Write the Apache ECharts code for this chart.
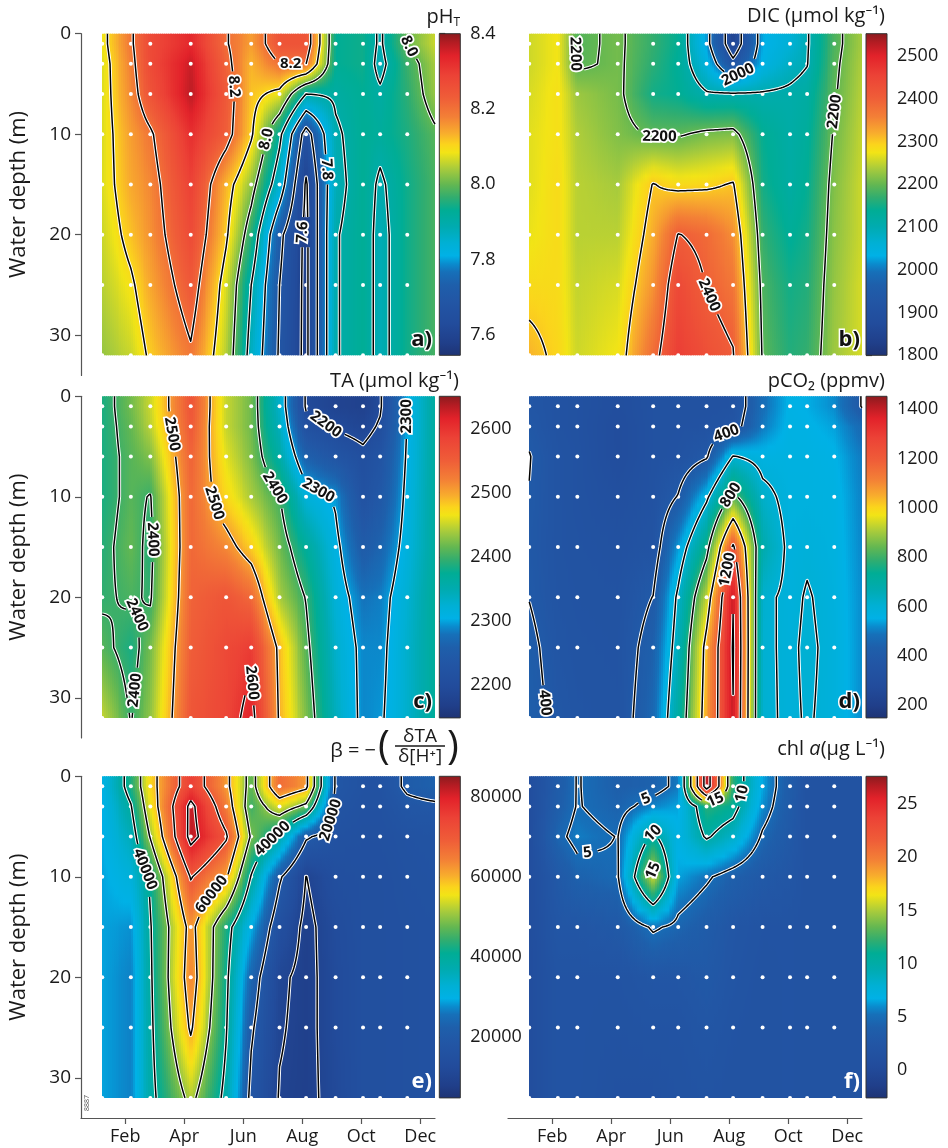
<!DOCTYPE html>
<html>
<head>
<meta charset="utf-8">
<script src="https://cdn.jsdelivr.net/npm/echarts@6.0.0/dist/echarts.min.js"></script>
<style>
  html, body { margin: 0; padding: 0; background: #fff; }
  #chart { width: 948px; height: 1148px; }
</style>
</head>
<body>
<div id="chart"></div>
<script>
// ---- sampling grid -------------------------------------------------------
// Cast dates as decimal months; the last column is the year-end boundary (no cast).
const months = [1.22, 2.19, 2.85, 4.22, 5.42, 6.27, 7.23, 8.13, 9.13, 10.06, 10.64, 11.56, 12.5];
const castCount = 12;
const depths = [1, 3, 6, 10, 15, 20, 25, 32];
const maxDepth = 32;

const tickMonths = [2, 4, 6, 8, 10, 12];
const tickNames = ['Feb', 'Apr', 'Jun', 'Aug', 'Oct', 'Dec'];
const depthTicks = [0, 10, 20, 30];

// ---- profiles: one row per cast, values at 1,3,6,10,15,20,25,32 m ---------
const phT = [
  [8.08, 8.07, 8.07, 8.07, 8.07, 8.06, 8.05, 8.03],
  [8.19, 8.18, 8.17, 8.15, 8.14, 8.12, 8.09, 8.06],
  [8.27, 8.27, 8.25, 8.19, 8.17, 8.16, 8.14, 8.11],
  [8.33, 8.36, 8.37, 8.32, 8.29, 8.27, 8.24, 8.19],
  [8.205, 8.22, 8.24, 8.23, 8.13, 8.11, 8.07, 8.05],
  [8.15, 8.13, 8.12, 8.11, 8.03, 7.96, 7.90, 7.87],
  [8.25, 8.20, 8.08, 7.92, 7.85, 7.72, 7.70, 7.69],
  [8.25, 8.20, 7.90, 7.66, 7.59, 7.58, 7.58, 7.58],
  [7.93, 7.93, 7.91, 7.89, 7.88, 7.895, 7.895, 7.895],
  [7.94, 7.94, 7.93, 7.93, 7.93, 7.93, 7.93, 7.93],
  [7.89, 7.88, 7.91, 7.92, 7.89, 7.88, 7.88, 7.88],
  [8.00, 7.97, 7.96, 7.95, 7.94, 7.94, 7.94, 7.94],
  [8.06, 8.04, 8.03, 7.99, 7.98, 7.98, 7.98, 7.98]
];
const dic = [
  [2255, 2255, 2260, 2265, 2265, 2270, 2285, 2315],
  [2275, 2275, 2280, 2280, 2285, 2285, 2285, 2290],
  [2190, 2192, 2230, 2240, 2245, 2245, 2250, 2255],
  [2208, 2208, 2210, 2215, 2235, 2245, 2260, 2275],
  [2170, 2165, 2150, 2195, 2302, 2320, 2340, 2380],
  [2140, 2135, 2140, 2195, 2285, 2402, 2440, 2460],
  [2020, 2050, 2105, 2210, 2290, 2385, 2398, 2430],
  [1850, 1920, 2105, 2215, 2304, 2345, 2370, 2404],
  [2030, 2040, 2105, 2140, 2150, 2170, 2185, 2195],
  [2060, 2080, 2110, 2115, 2120, 2135, 2150, 2160],
  [2095, 2098, 2120, 2130, 2140, 2150, 2160, 2170],
  [2185, 2190, 2195, 2205, 2215, 2220, 2225, 2230],
  [2235, 2240, 2245, 2250, 2255, 2255, 2260, 2260]
];
const ta = [
  [2385, 2385, 2385, 2385, 2390, 2395, 2410, 2450],
  [2420, 2415, 2410, 2410, 2415, 2405, 2385, 2398],
  [2450, 2445, 2425, 2398, 2390, 2396, 2420, 2430],
  [2560, 2555, 2545, 2540, 2540, 2545, 2550, 2560],
  [2450, 2450, 2460, 2475, 2515, 2560, 2575, 2580],
  [2420, 2420, 2425, 2440, 2480, 2540, 2590, 2615],
  [2330, 2340, 2360, 2402, 2420, 2440, 2490, 2495],
  [2195, 2215, 2260, 2320, 2370, 2398, 2410, 2425],
  [2180, 2195, 2230, 2295, 2310, 2320, 2330, 2340],
  [2175, 2185, 2210, 2220, 2250, 2280, 2290, 2290],
  [2195, 2205, 2225, 2240, 2265, 2285, 2290, 2295],
  [2302, 2302, 2305, 2310, 2315, 2325, 2330, 2330],
  [2365, 2365, 2365, 2365, 2365, 2370, 2370, 2370]
];
const pco2 = [
  [370, 385, 403, 398, 390, 398, 420, 430],
  [340, 340, 350, 350, 350, 355, 365, 380],
  [330, 330, 335, 335, 340, 345, 350, 360],
  [300, 290, 290, 310, 330, 340, 345, 350],
  [330, 330, 330, 335, 350, 402, 440, 465],
  [330, 335, 340, 405, 530, 620, 650, 700],
  [330, 340, 390, 580, 760, 930, 1040, 1060],
  [340, 360, 605, 830, 1220, 1395, 1410, 1395],
  [480, 500, 570, 625, 680, 615, 610, 612],
  [560, 565, 570, 575, 580, 585, 590, 590],
  [550, 560, 570, 575, 590, 605, 610, 605],
  [520, 540, 560, 570, 575, 580, 585, 585],
  [395, 470, 500, 510, 515, 520, 520, 520]
];
const beta = [
  [30000, 29500, 29500, 29000, 29000, 29000, 29000, 29000],
  [43000, 39500, 36000, 32000, 28000, 27000, 27000, 27000],
  [57000, 55000, 50500, 41000, 39500, 39000, 38500, 38000],
  [75000, 82000, 82500, 70500, 62500, 64000, 61000, 52000],
  [62000, 65000, 71000, 61000, 43000, 41500, 40500, 38000],
  [47000, 45000, 49000, 39500, 30000, 24000, 21000, 18000],
  [67000, 55000, 38000, 21000, 15000, 11000, 10500, 9600],
  [62000, 48000, 21000, 9900, 8500, 8500, 8500, 8500],
  [19000, 17500, 16000, 14500, 13000, 12500, 12500, 12000],
  [16500, 16000, 15500, 15000, 15000, 15000, 15000, 15000],
  [16500, 16000, 15500, 15000, 15000, 15000, 15000, 15000],
  [21000, 18500, 16500, 16000, 15500, 15500, 15500, 15500],
  [23000, 19000, 17000, 16500, 16000, 16000, 16000, 16000]
];
const chla = [
  [0.8, 0.8, 0.8, 0.8, 0.8, 0.8, 0.8, 0.8],
  [3.5, 3.8, 4.5, 3.0, 2.5, 2.0, 2.0, 2.0],
  [5.1, 5.1, 5.6, 4.2, 2.5, 2.0, 2.0, 2.0],
  [4.0, 4.3, 4.95, 4.8, 3.0, 2.0, 1.8, 1.5],
  [4.2, 5.8, 10.5, 15.8, 5.3, 2.5, 2.0, 1.5],
  [5.5, 6.5, 7.0, 6.5, 4.5, 2.5, 2.0, 1.8],
  [27.0, 12.0, 10.3, 5.3, 3.5, 3.0, 2.5, 2.0],
  [12.0, 11.0, 8.5, 4.0, 2.5, 2.3, 2.0, 1.8],
  [6.5, 6.0, 4.7, 3.0, 2.0, 1.8, 1.8, 1.8],
  [3.5, 3.3, 3.0, 2.5, 2.0, 2.0, 2.0, 2.0],
  [1.8, 1.8, 1.8, 1.8, 1.8, 1.8, 1.8, 1.8],
  [1.8, 1.8, 1.8, 1.8, 1.8, 1.8, 1.8, 1.8],
  [1.8, 1.8, 1.8, 1.8, 1.8, 1.8, 1.8, 1.8]
];

// colour-bar tick values
const phTicks = [7.6, 7.8, 8.0, 8.2, 8.4];
const dicTicks = [1800, 1900, 2000, 2100, 2200, 2300, 2400, 2500];
const taTicks = [2200, 2300, 2400, 2500, 2600];
const pco2Ticks = [200, 400, 600, 800, 1000, 1200, 1400];
const betaTicks = [20000, 40000, 60000, 80000];
const chlTicks = [0, 5, 10, 15, 20, 25];

// ---- colour scale --------------------------------------------------------
const PALETTE = [
  [0.00, '#1e3374'], [0.04, '#203f8a'], [0.10, '#224c9c'], [0.17, '#2256a5'],
  [0.22, '#1e5fab'], [0.26, '#1670b9'], [0.285, '#0a8cce'], [0.31, '#00b1e6'],
  [0.35, '#00b0d4'], [0.40, '#00abb0'], [0.45, '#00ad95'], [0.49, '#30ad70'],
  [0.53, '#62b752'], [0.58, '#a8cb3c'], [0.63, '#f2e416'], [0.655, '#fbd41c'],
  [0.69, '#f8ad2d'], [0.74, '#f38036'], [0.80, '#ef5d38'], [0.87, '#ec4236'],
  [0.93, '#e2222a'], [0.97, '#b51c23'], [1.00, '#8a1b1e']
];
const palRGB = PALETTE.map(([t, h]) => [t, parseInt(h.slice(1, 3), 16), parseInt(h.slice(3, 5), 16), parseInt(h.slice(5, 7), 16)]);
function colorAt(t) {
  t = Math.max(0, Math.min(1, t));
  let k = 0;
  while (k < palRGB.length - 2 && t > palRGB[k + 1][0]) k++;
  const a = palRGB[k], b = palRGB[k + 1];
  const u = (t - a[0]) / (b[0] - a[0]);
  return 'rgb(' + Math.round(a[1] + (b[1] - a[1]) * u) + ',' +
    Math.round(a[2] + (b[2] - a[2]) * u) + ',' + Math.round(a[3] + (b[3] - a[3]) * u) + ')';
}

// ---- panel set-up --------------------------------------------------------
const fmt1 = v => v.toFixed(1);
const fmt0 = v => String(v);
const panels = [
  { values: phT, range: [7.546, 8.4], ticks: phTicks, tickFmt: fmt1, levels: [7.6, 7.7, 7.8, 7.9, 8.0, 8.1, 8.2], fmt: fmt1,
    col: 0, row: 0, letter: 'a)', letterFill: '#111',
    labels: [[5.84, 5.1, 8.2], [7.59, 3.1, 8.2], [7.08, 10.7, 8.0], [8.84, 13.6, 7.8], [8.07, 19.7, 7.6], [11.6, 1.3, 8.0]] },
  { values: dic, range: [1800, 2552], ticks: dicTicks, tickFmt: fmt0, levels: [1900, 2000, 2100, 2200, 2300, 2400], fmt: fmt0,
    col: 1, row: 0, letter: 'b)', letterFill: '#111',
    labels: [[2.84, 2.1, 2200], [8.32, 4.1, 2000], [5.66, 11.2, 2200], [11.76, 7.9, 2200], [7.53, 25.8, 2400]] },
  { values: ta, range: [2149, 2650], ticks: taTicks, tickFmt: fmt0, levels: [2200, 2300, 2400, 2500, 2600], fmt: fmt0,
    col: 0, row: 1, letter: 'c)', letterFill: '#111',
    labels: [[3.64, 3.7, 2500], [5.11, 10.6, 2500], [7.14, 9.0, 2400], [8.78, 2.9, 2200], [8.72, 8.3, 2300],
             [11.55, 2.0, 2300], [2.9, 14.3, 2400], [2.28, 21.8, 2400], [2.4, 29.2, 2400], [6.52, 28.4, 2600]] },
  { values: pco2, range: [149, 1453], ticks: pco2Ticks, tickFmt: fmt0, levels: [400, 600, 800, 1000, 1200, 1400], fmt: fmt0,
    col: 1, row: 1, letter: 'd)', letterFill: '#111',
    labels: [[8.03, 4.7, 400], [7.98, 9.7, 800], [7.92, 17.3, 1200], [1.82, 30.4, 400]] },
  { values: beta, range: [4880, 85150], ticks: betaTicks, tickFmt: fmt0, levels: [10000, 20000, 40000, 50000, 60000, 70000, 80000], fmt: fmt0,
    col: 0, row: 2, letter: 'e)', letterFill: '#fff',
    labels: [[2.9, 9.0, 40000], [4.88, 11.5, 60000], [7.03, 6.3, 40000], [8.89, 4.3, 20000]] },
  { values: chla, range: [-2.6, 27.6], ticks: chlTicks, tickFmt: fmt0, levels: [5, 10, 15, 20, 25], fmt: fmt0,
    col: 1, row: 2, letter: 'f)', letterFill: '#fff',
    labels: [[5.21, 2.4, 5], [3.18, 7.2, 5], [5.32, 5.2, 10], [5.55, 9.3, 15], [7.58, 2.4, 15], [8.65, 2.0, 10]] }
];

// layout (px)
const COL_LEFT = [81, 508];
const PLOT_W = 354;
const ROW_TOP = [33.7, 396.3, 776.3];
const PX_PER_M = 10.05;
const AXIS_MAX = 34;
const AXIS_H = AXIS_MAX * PX_PER_M;
const DATA_H = maxDepth * PX_PER_M;
const CB_LEFT = [439.3, 866];
const CB_W = 21;
const FONT = '"Open Sans", "Noto Sans", "DejaVu Sans", sans-serif';

// ---- interpolation & contouring -----------------------------------------
function fineField(vals) {
  const SUB = 12;
  const xs = [], ci = [], cu = [];
  for (let i = 0; i < months.length - 1; i++) {
    for (let s = 0; s < SUB; s++) {
      const u = s / SUB;
      xs.push(months[i] + (months[i + 1] - months[i]) * u); ci.push(i); cu.push(u);
    }
  }
  xs.push(months[months.length - 1]); ci.push(months.length - 2); cu.push(1);
  const ys = [];
  for (let d = 0; d <= maxDepth + 1e-9; d += 0.25) ys.push(d);
  const grid = ys.map(d => {
    let k = 0, w = 0;
    if (d > depths[0]) {
      while (k < depths.length - 2 && d > depths[k + 1]) k++;
      w = (d - depths[k]) / (depths[k + 1] - depths[k]);
    }
    return xs.map((x, j) => {
      const i = ci[j], u = cu[j];
      const a = vals[i][k] + (vals[i][k + 1] - vals[i][k]) * w;
      const b = vals[i + 1][k] + (vals[i + 1][k + 1] - vals[i + 1][k]) * w;
      return a + (b - a) * u;
    });
  });
  return { xs, ys, grid };
}

function contourLines(field, level) {
  const { xs, ys, grid } = field;
  const pts = new Map(), segs = [], adj = new Map();
  function ep(key, x1, y1, v1, x2, y2, v2) {
    if (!pts.has(key)) {
      const t = (level - v1) / (v2 - v1);
      pts.set(key, [x1 + (x2 - x1) * t, y1 + (y2 - y1) * t]);
    }
    return key;
  }
  function add(k1, k2) {
    const idx = segs.length;
    segs.push([k1, k2]);
    [k1, k2].forEach(k => { if (!adj.has(k)) adj.set(k, []); adj.get(k).push(idx); });
  }
  for (let j = 0; j < ys.length - 1; j++) {
    for (let i = 0; i < xs.length - 1; i++) {
      const a = grid[j][i], b = grid[j][i + 1], c = grid[j + 1][i + 1], d = grid[j + 1][i];
      const sa = a >= level, sb = b >= level, sc = c >= level, sd = d >= level;
      if (sa === sb && sb === sc && sc === sd) continue;
      const T = sa !== sb ? ep('h' + i + '_' + j, xs[i], ys[j], a, xs[i + 1], ys[j], b) : null;
      const R = sb !== sc ? ep('v' + (i + 1) + '_' + j, xs[i + 1], ys[j], b, xs[i + 1], ys[j + 1], c) : null;
      const B = sd !== sc ? ep('h' + i + '_' + (j + 1), xs[i], ys[j + 1], d, xs[i + 1], ys[j + 1], c) : null;
      const L = sa !== sd ? ep('v' + i + '_' + j, xs[i], ys[j], a, xs[i], ys[j + 1], d) : null;
      const e = [T, R, B, L].filter(v => v !== null);
      if (e.length === 2) add(e[0], e[1]);
      else if (e.length === 4) {
        const center = (a + b + c + d) / 4 >= level;
        if (center === sa) { add(T, R); add(B, L); } else { add(T, L); add(R, B); }
      }
    }
  }
  const used = new Array(segs.length).fill(false);
  const lines = [];
  for (let s = 0; s < segs.length; s++) {
    if (used[s]) continue;
    used[s] = true;
    const line = [segs[s][0], segs[s][1]];
    for (const dir of [1, -1]) {
      let cur = dir === 1 ? line[line.length - 1] : line[0];
      for (;;) {
        const nx = (adj.get(cur) || []).find(t => !used[t]);
        if (nx === undefined) break;
        used[nx] = true;
        const [p, q] = segs[nx];
        cur = p === cur ? q : p;
        if (dir === 1) line.push(cur); else line.unshift(cur);
      }
    }
    lines.push(line.map(k => pts.get(k)));
  }
  return lines;
}

panels.forEach(p => {
  const field = fineField(p.values);
  p.contours = p.levels.map(level => ({ level, lines: contourLines(field, level) }));
});

// ---- render helpers -----------------------------------------------------
function heatRenderer(p) {
  const [lo, hi] = p.range;
  return function (params, api) {
    const i = api.value(2);
    const lastItem = i === months.length - 2;
    const xa = api.coord([months[i], 0])[0];
    const xb = api.coord([months[i + 1], 0])[0];
    const yTop = api.coord([months[i], 0])[1];
    const yBot = api.coord([months[i], maxDepth])[1];
    const n = Math.max(2, Math.ceil((xb - xa) / 2));
    const children = [];
    for (let s = 0; s < n; s++) {
      const u = (s + 0.5) / n;
      const col = p.values[i].map((v, k) => v + (p.values[i + 1][k] - v) * u);
      const stops = [{ offset: 0, color: colorAt((col[0] - lo) / (hi - lo)) }];
      const M = 6;
      for (let k = 0; k < depths.length - 1; k++) {
        for (let m = 0; m <= M; m++) {
          const d = depths[k] + (depths[k + 1] - depths[k]) * m / M;
          const v = col[k] + (col[k + 1] - col[k]) * m / M;
          stops.push({ offset: d / maxDepth, color: colorAt((v - lo) / (hi - lo)) });
        }
      }
      // strip edges on whole pixels, each strip overlapping the next by one pixel
      const x0 = Math.round(xa + (xb - xa) * s / n);
      let x1 = Math.round(xa + (xb - xa) * (s + 1) / n);
      if (!(lastItem && s === n - 1)) x1 += 1;
      children.push({
        type: 'rect',
        shape: { x: x0, y: yTop, width: x1 - x0, height: yBot - yTop },
        style: { fill: { type: 'linear', x: 0, y: 0, x2: 0, y2: 1, colorStops: stops } },
        silent: true
      });
    }
    return { type: 'group', children };
  };
}

function textWidth(t, size) {
  let w = 0;
  for (const ch of t) w += (ch === '.' ? 0.3 : 0.6) * size;
  return w;
}

function contourRenderer(p) {
  return function (params, api) {
    const pxLines = [];
    p.contours.forEach(c => c.lines.forEach(l => pxLines.push({ level: c.level, pts: l.map(q => api.coord(q)) })));
    const LABEL_SIZE = 15;
    const labels = [];
    p.labels.forEach(([m, d, lev]) => {
      const h = api.coord([m, d]);
      let best = null;
      pxLines.forEach(L => {
        if (Math.abs(L.level - lev) > 1e-9) return;
        L.pts.forEach((q, k) => {
          const dd = (q[0] - h[0]) ** 2 + (q[1] - h[1]) ** 2;
          if (!best || dd < best.dd) best = { dd, L, k };
        });
      });
      if (!best) return;
      const P = best.L.pts;
      const k0 = Math.max(0, best.k - 3), k1 = Math.min(P.length - 1, best.k + 3);
      let ang = Math.atan2(P[k1][1] - P[k0][1], P[k1][0] - P[k0][0]);
      if (ang > Math.PI / 2 + 1e-6) ang -= Math.PI;
      if (ang <= -Math.PI / 2 + 1e-6) ang += Math.PI;
      const text = p.fmt(lev);
      labels.push({ x: P[best.k][0], y: P[best.k][1], ang, text, hw: textWidth(text, LABEL_SIZE) / 2 + 3, hh: 7 });
    });
    const inGap = q => labels.some(L => {
      const dx = q[0] - L.x, dy = q[1] - L.y, c = Math.cos(L.ang), s = Math.sin(L.ang);
      return Math.abs(dx * c + dy * s) < L.hw && Math.abs(-dx * s + dy * c) < L.hh;
    });
    const pieces = [];
    pxLines.forEach(L => {
      let cur = [];
      L.pts.forEach(q => {
        if (inGap(q)) { if (cur.length > 1) pieces.push(cur); cur = []; }
        else cur.push(q);
      });
      if (cur.length > 1) pieces.push(cur);
    });
    const children = [];
    pieces.forEach(pts => children.push({ type: 'polyline', shape: { points: pts }, silent: true,
      style: { stroke: '#ffffff', lineWidth: 3.4, fill: 'none', lineJoin: 'round', lineCap: 'butt' } }));
    pieces.forEach(pts => children.push({ type: 'polyline', shape: { points: pts }, silent: true,
      style: { stroke: '#000000', lineWidth: 1.5, fill: 'none', lineJoin: 'round', lineCap: 'butt' } }));
    labels.forEach(L => children.push({
      type: 'text', x: L.x, y: L.y, rotation: -L.ang, silent: true,
      style: { text: L.text, fill: '#111', stroke: '#fff', lineWidth: 3.5, fontSize: LABEL_SIZE, fontWeight: 'bold',
               fontFamily: FONT, align: 'center', verticalAlign: 'middle' }
    }));
    return { type: 'group', children };
  };
}

function colorbarRenderer(p) {
  const stops = PALETTE.slice().reverse().map(([t, c]) => ({ offset: 1 - t, color: c }));
  return function (params, api) {
    const a = api.coord([0, p.range[1]]);
    const b = api.coord([1, p.range[0]]);
    return {
      type: 'rect', silent: true,
      shape: { x: a[0], y: a[1], width: b[0] - a[0], height: b[1] - a[1] },
      style: { fill: { type: 'linear', x: 0, y: 0, x2: 0, y2: 1, colorStops: stops }, stroke: '#333', lineWidth: 1 }
    };
  };
}

// ---- option ---------------------------------------------------------------
const option = {
  animation: false,
  backgroundColor: '#ffffff',
  textStyle: { fontFamily: FONT },
  grid: [], xAxis: [], yAxis: [], series: [], graphic: []
};

const axisLineStyle = { color: '#555', width: 1.2 };

panels.forEach((p, n) => {
  const gi = 2 * n, ci = 2 * n + 1;
  const top = ROW_TOP[p.row];
  option.grid.push({ left: COL_LEFT[p.col], top, width: PLOT_W, height: AXIS_H });
  option.grid.push({ left: CB_LEFT[p.col], top, width: CB_W, height: DATA_H });

  option.xAxis.push({
    gridIndex: gi, type: 'value', min: 0.5, max: 12.5, show: p.row === 2,
    axisLine: { show: true, onZero: false, lineStyle: axisLineStyle },
    axisTick: { show: true, inside: false, length: 6, customValues: tickMonths, lineStyle: axisLineStyle },
    axisLabel: { customValues: tickMonths, formatter: v => tickNames[tickMonths.indexOf(v)], fontSize: 18, color: '#1a1a1a', margin: 10 },
    splitLine: { show: false }
  });
  option.yAxis.push({
    gridIndex: gi, type: 'value', inverse: true, min: 0, max: AXIS_MAX, show: p.col === 0,
    axisLine: { show: true, onZero: false, lineStyle: axisLineStyle },
    axisTick: { show: true, inside: false, length: 6, customValues: depthTicks, lineStyle: axisLineStyle },
    axisLabel: { customValues: depthTicks, fontSize: 19, color: '#1a1a1a', margin: 10 },
    splitLine: { show: false }
  });
  option.xAxis.push({ gridIndex: ci, type: 'value', min: 0, max: 1, show: false });
  option.yAxis.push({
    gridIndex: ci, type: 'value', min: p.range[0], max: p.range[1], position: 'right',
    axisLine: { show: false },
    axisTick: { show: true, inside: false, length: 6, customValues: p.ticks, lineStyle: { color: '#333', width: 1.2 } },
    axisLabel: { customValues: p.ticks, formatter: p.tickFmt, fontSize: 18, color: '#1a1a1a', margin: 10 },
    splitLine: { show: false }
  });

  option.series.push({
    type: 'custom', xAxisIndex: gi, yAxisIndex: gi, silent: true, z: 1,
    data: months.slice(0, -1).map((m, i) => [m, 16, i]),
    encode: { x: 0, y: 1 },
    renderItem: heatRenderer(p)
  });
  const casts = [];
  months.slice(0, castCount).forEach(m => depths.forEach(d => casts.push([m, d])));
  option.series.push({
    type: 'scatter', xAxisIndex: gi, yAxisIndex: gi, silent: true, z: 2,
    symbolSize: 4, itemStyle: { color: '#ffffff', opacity: 1 }, data: casts
  });
  option.series.push({
    type: 'custom', xAxisIndex: gi, yAxisIndex: gi, silent: true, z: 3,
    data: [[6, 16]], encode: { x: 0, y: 1 },
    renderItem: contourRenderer(p)
  });
  option.series.push({
    type: 'custom', xAxisIndex: ci, yAxisIndex: ci, silent: true, z: 1,
    data: [[0.5, (p.range[0] + p.range[1]) / 2]], encode: { x: 0, y: 1 },
    renderItem: colorbarRenderer(p)
  });

  // panel letter
  const right = COL_LEFT[p.col] + PLOT_W - (p.col === 0 ? 3 : 2);
  const letterY = top + DATA_H - 16;
  option.graphic.push({
    type: 'text', x: right, y: letterY, silent: true, z: 20,
    style: Object.assign({ text: p.letter, fontSize: 22, fontWeight: 'bold', fontFamily: FONT, fill: p.letterFill,
      align: 'right', verticalAlign: 'middle' }, p.letterFill === '#111' ? { stroke: '#fff', lineWidth: 3 } : {})
  });
});

// axis names
[0, 1, 2].forEach(r => {
  option.graphic.push({
    type: 'text', x: 18.5, y: ROW_TOP[r] + DATA_H / 2, rotation: Math.PI / 2, silent: true,
    style: { text: 'Water depth (m)', fontSize: 22, fontFamily: FONT, fill: '#1a1a1a', align: 'center', verticalAlign: 'middle' }
  });
});

// titles
const titleStyle = { fontSize: 20, fontFamily: FONT, fill: '#1a1a1a', align: 'right', verticalAlign: 'middle' };
option.graphic.push(
  { type: 'text', x: 460, y: 17, silent: true,
    style: Object.assign({}, titleStyle, { text: '{m|pH}{s|T}',
      rich: { m: { fontSize: 20, fontFamily: FONT, fill: '#1a1a1a', lineHeight: 24 },
              s: { fontSize: 12, fontFamily: FONT, fill: '#1a1a1a', lineHeight: 12, verticalAlign: 'bottom' } } }) },
  { type: 'text', x: 885, y: 16, silent: true, style: Object.assign({}, titleStyle, { text: 'DIC (µmol kg⁻¹)' }) },
  { type: 'text', x: 459, y: 381, silent: true, style: Object.assign({}, titleStyle, { text: 'TA (µmol kg⁻¹)' }) },
  { type: 'text', x: 885, y: 381, silent: true, style: Object.assign({}, titleStyle, { text: 'pCO₂ (ppmv)' }) },
  { type: 'text', x: 885, y: 749, silent: true,
    style: Object.assign({}, titleStyle, { text: '{n|chl }{i|a}{n|(µg L⁻¹)}',
      rich: { n: { fontSize: 20, fontFamily: FONT, fill: '#1a1a1a' },
              i: { fontSize: 20, fontFamily: FONT, fill: '#1a1a1a', fontStyle: 'italic' } } }) },
  // beta = -(dTA / d[H+])
  { type: 'text', x: 376, y: 751, silent: true, style: Object.assign({}, titleStyle, { text: 'β = −' }) },
  { type: 'text', x: 384, y: 748, silent: true,
    style: { text: '(', fontSize: 40, fontFamily: FONT, fill: '#1a1a1a', align: 'center', verticalAlign: 'middle' } },
  { type: 'text', x: 420, y: 737, silent: true,
    style: { text: 'δTA', fontSize: 19, fontFamily: FONT, fill: '#1a1a1a', align: 'center', verticalAlign: 'middle' } },
  { type: 'line', silent: true, shape: { x1: 395, y1: 746, x2: 445, y2: 746 }, style: { stroke: '#1a1a1a', lineWidth: 1.3 } },
  { type: 'text', x: 420, y: 757, silent: true,
    style: { text: 'δ[H⁺]', fontSize: 19, fontFamily: FONT, fill: '#1a1a1a', align: 'center', verticalAlign: 'middle' } },
  { type: 'text', x: 453, y: 748, silent: true,
    style: { text: ')', fontSize: 40, fontFamily: FONT, fill: '#1a1a1a', align: 'center', verticalAlign: 'middle' } },
  { type: 'text', x: 87, y: 1103, rotation: Math.PI / 2, silent: true,
    style: { text: '8887', fontSize: 7, fontFamily: FONT, fill: '#555', align: 'center', verticalAlign: 'middle' } }
);

const chart = echarts.init(document.getElementById('chart'), null, { renderer: 'canvas', width: 948, height: 1148 });
chart.setOption(option);
</script>
</body>
</html>
